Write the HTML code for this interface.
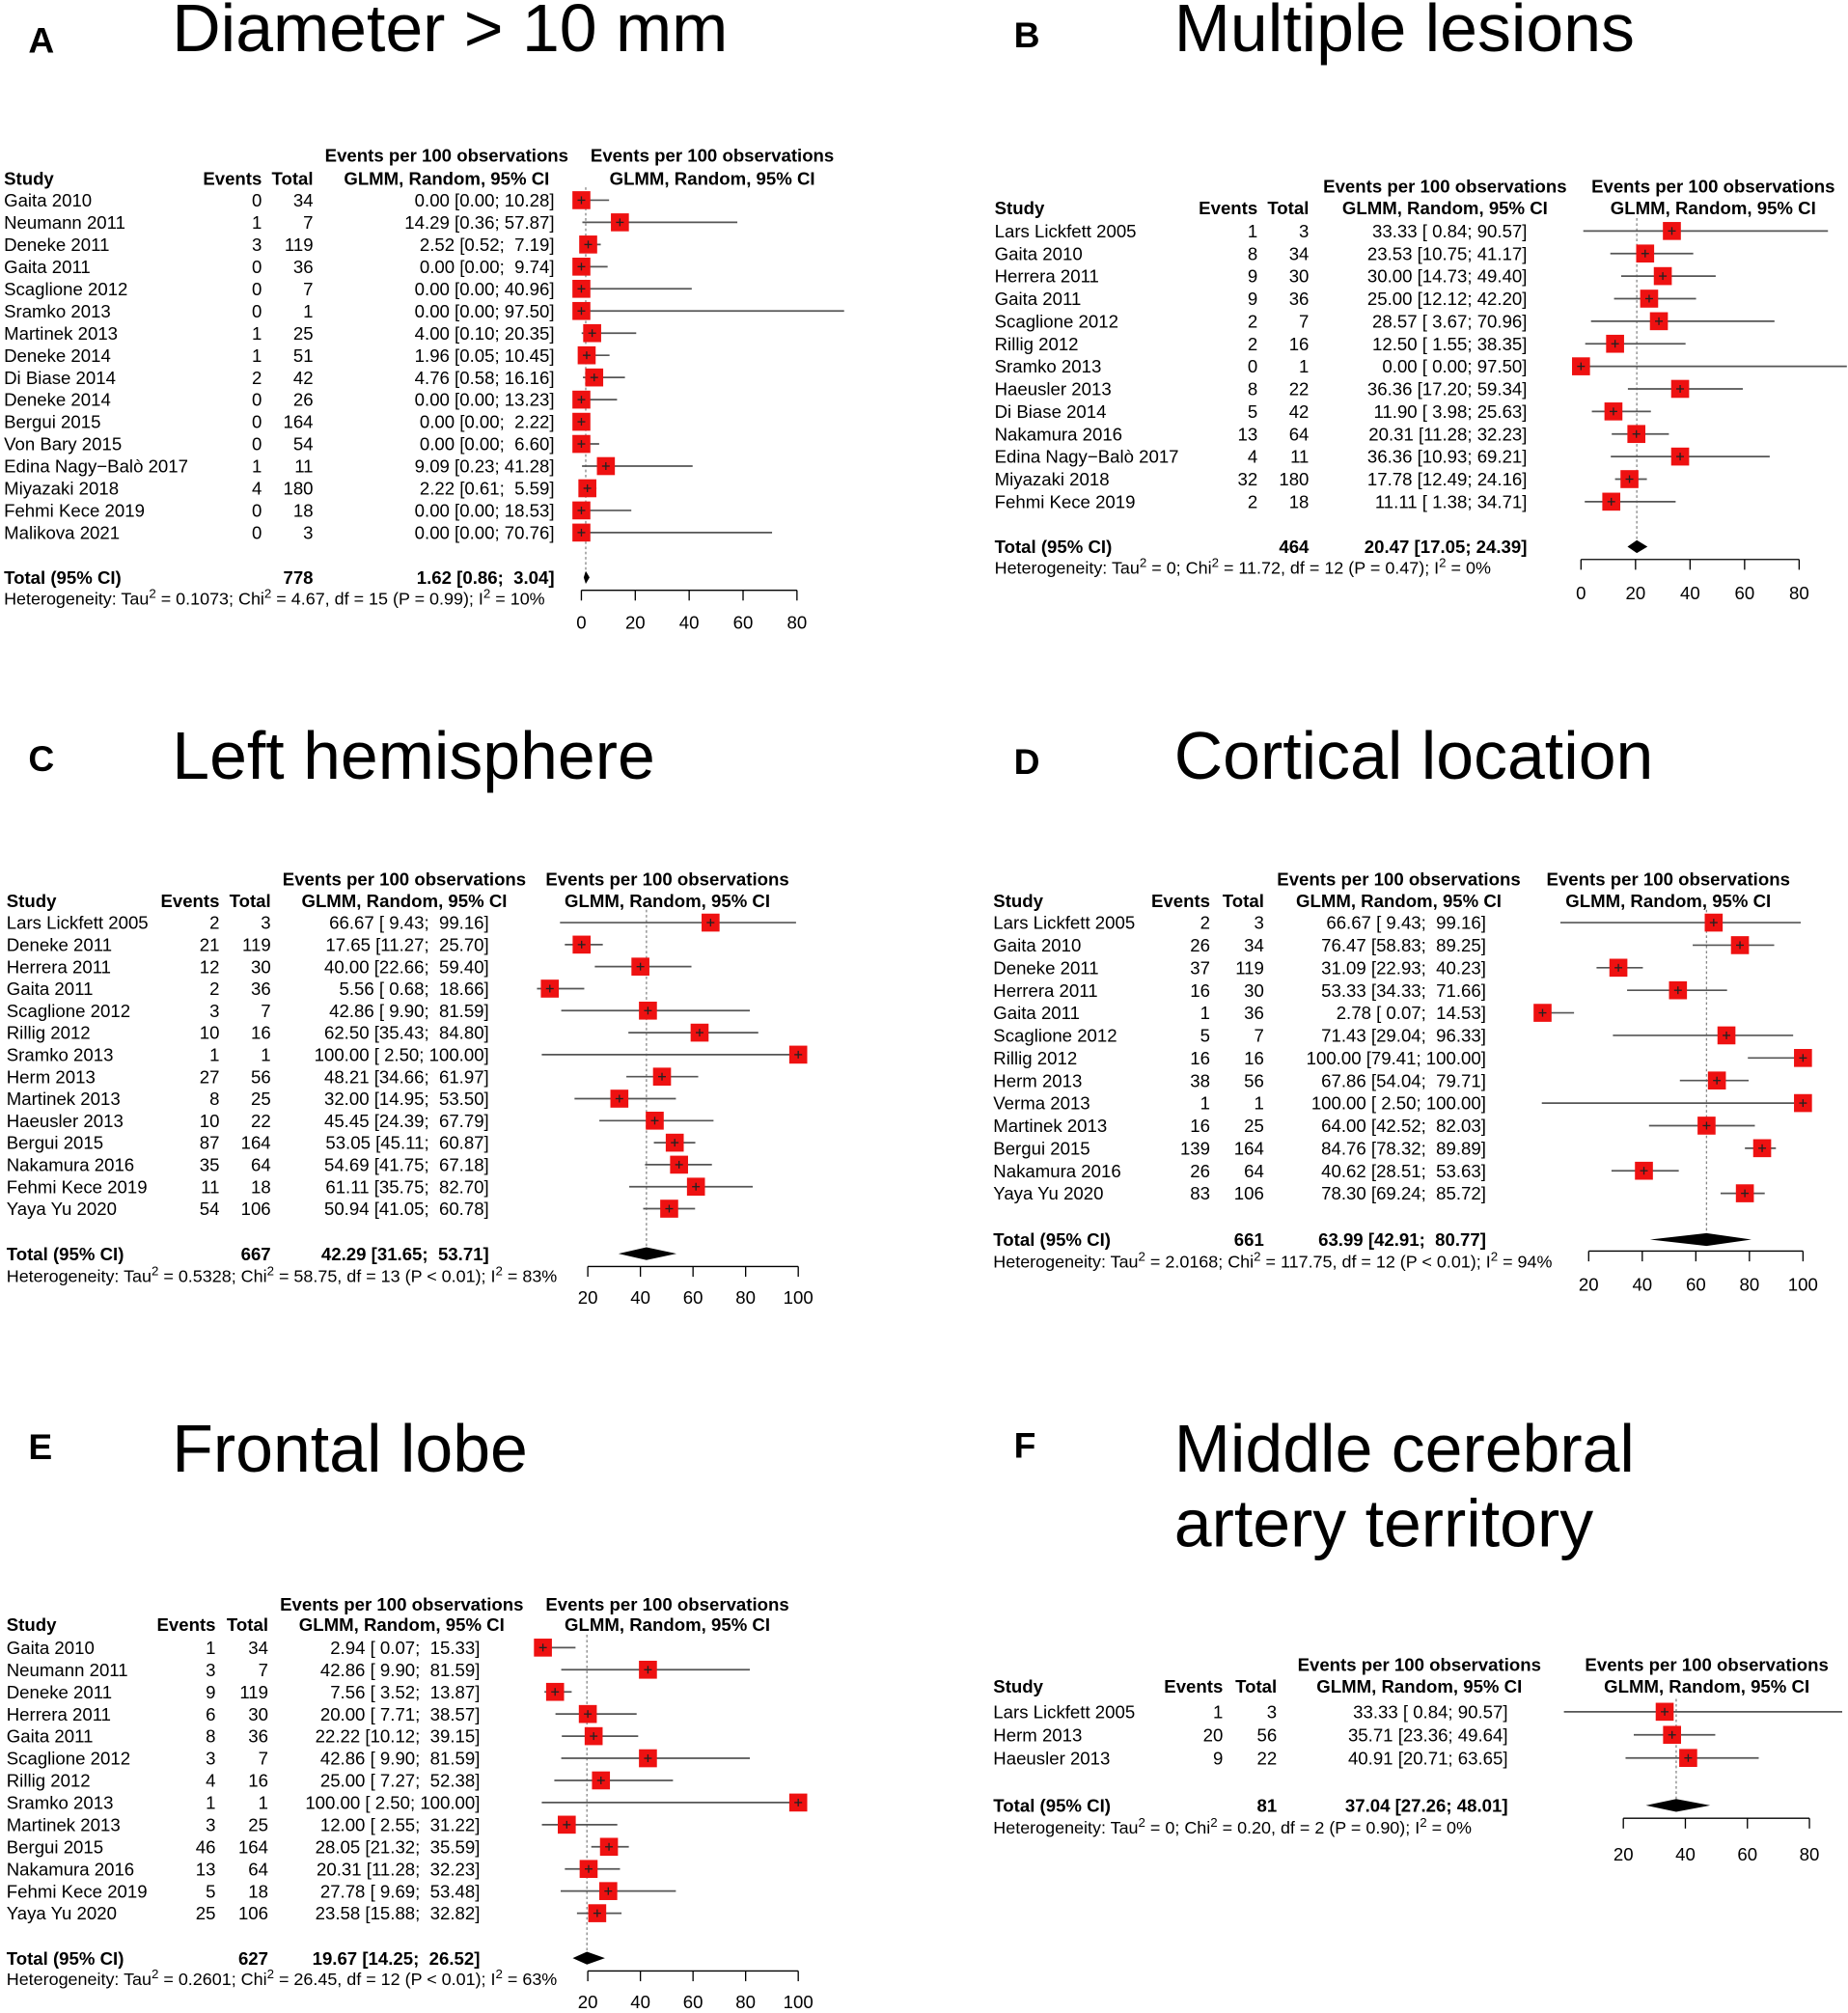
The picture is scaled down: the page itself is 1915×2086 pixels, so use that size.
<!DOCTYPE html>
<html><head><meta charset="utf-8"><style>
html,body{margin:0;padding:0;background:#fff}
svg text{font-family:"Liberation Sans",sans-serif;white-space:pre}
</style></head><body>
<svg id="fig" width="1915" height="2081" viewBox="0 0 1440 1565" xmlns="http://www.w3.org/2000/svg"></svg>
<script>
// ---- Panel A data ----
const studiesA=["Gaita 2010","Neumann 2011","Deneke 2011","Gaita 2011","Scaglione 2012","Sramko 2013","Martinek 2013","Deneke 2014","Di Biase 2014","Deneke 2014","Bergui 2015","Von Bary 2015","Edina Nagy\u2212Balò 2017","Miyazaki 2018","Fehmi Kece 2019","Malikova 2021"];
const eventsA=[0,1,3,0,0,0,1,1,2,0,0,0,1,4,0,0];
const totalsA=[34,7,119,36,7,1,25,51,42,26,164,54,11,180,18,3];
const estA=[0,14.29,2.52,0,0,0,4.00,1.96,4.76,0,0,0,9.09,2.22,0,0];
const loA=[0,0.36,0.52,0,0,0,0.10,0.05,0.58,0,0,0,0.23,0.61,0,0];
const hiA=[10.28,57.87,7.19,9.74,40.96,97.50,20.35,10.45,16.16,13.23,2.22,6.60,41.28,5.59,18.53,70.76];
const pooledA=[778,1.62,0.86,3.04];
const hetA=["0.1073","4.67","15","P = 0.99","10%"];
const ticksA=[0,20,40,60,80];
// ---- Panel B data ----
const studiesB=["Lars Lickfett 2005","Gaita 2010","Herrera 2011","Gaita 2011","Scaglione 2012","Rillig 2012","Sramko 2013","Haeusler 2013","Di Biase 2014","Nakamura 2016","Edina Nagy\u2212Balò 2017","Miyazaki 2018","Fehmi Kece 2019"];
const eventsB=[1,8,9,9,2,2,0,8,5,13,4,32,2];
const totalsB=[3,34,30,36,7,16,1,22,42,64,11,180,18];
const estB=[33.33,23.53,30.00,25.00,28.57,12.50,0.00,36.36,11.90,20.31,36.36,17.78,11.11];
const loB=[0.84,10.75,14.73,12.12,3.67,1.55,0.00,17.20,3.98,11.28,10.93,12.49,1.38];
const hiB=[90.57,41.17,49.40,42.20,70.96,38.35,97.50,59.34,25.63,32.23,69.21,24.16,34.71];
const pooledB=[464,20.47,17.05,24.39];
const hetB=["0","11.72","12","P = 0.47","0%"];
const ticksB=[0,20,40,60,80];
// ---- Panel C data ----
const studiesC=["Lars Lickfett 2005","Deneke 2011","Herrera 2011","Gaita 2011","Scaglione 2012","Rillig 2012","Sramko 2013","Herm 2013","Martinek 2013","Haeusler 2013","Bergui 2015","Nakamura 2016","Fehmi Kece 2019","Yaya Yu 2020"];
const eventsC=[2,21,12,2,3,10,1,27,8,10,87,35,11,54];
const totalsC=[3,119,30,36,7,16,1,56,25,22,164,64,18,106];
const estC=[66.67,17.65,40.00,5.56,42.86,62.50,100.00,48.21,32.00,45.45,53.05,54.69,61.11,50.94];
const loC=[9.43,11.27,22.66,0.68,9.90,35.43,2.50,34.66,14.95,24.39,45.11,41.75,35.75,41.05];
const hiC=[99.16,25.70,59.40,18.66,81.59,84.80,100.00,61.97,53.50,67.79,60.87,67.18,82.70,60.78];
const pooledC=[667,42.29,31.65,53.71];
const hetC=["0.5328","58.75","13","P < 0.01","83%"];
const ticksC=[20,40,60,80,100];
// ---- Panel D data ----
const studiesD=["Lars Lickfett 2005","Gaita 2010","Deneke 2011","Herrera 2011","Gaita 2011","Scaglione 2012","Rillig 2012","Herm 2013","Verma 2013","Martinek 2013","Bergui 2015","Nakamura 2016","Yaya Yu 2020"];
const eventsD=[2,26,37,16,1,5,16,38,1,16,139,26,83];
const totalsD=[3,34,119,30,36,7,16,56,1,25,164,64,106];
const estD=[66.67,76.47,31.09,53.33,2.78,71.43,100.00,67.86,100.00,64.00,84.76,40.62,78.30];
const loD=[9.43,58.83,22.93,34.33,0.07,29.04,79.41,54.04,2.50,42.52,78.32,28.51,69.24];
const hiD=[99.16,89.25,40.23,71.66,14.53,96.33,100.00,79.71,100.00,82.03,89.89,53.63,85.72];
const pooledD=[661,63.99,42.91,80.77];
const hetD=["2.0168","117.75","12","P < 0.01","94%"];
const ticksD=[20,40,60,80,100];
// ---- Panel E data ----
const studiesE=["Gaita 2010","Neumann 2011","Deneke 2011","Herrera 2011","Gaita 2011","Scaglione 2012","Rillig 2012","Sramko 2013","Martinek 2013","Bergui 2015","Nakamura 2016","Fehmi Kece 2019","Yaya Yu 2020"];
const eventsE=[1,3,9,6,8,3,4,1,3,46,13,5,25];
const totalsE=[34,7,119,30,36,7,16,1,25,164,64,18,106];
const estE=[2.94,42.86,7.56,20.00,22.22,42.86,25.00,100.00,12.00,28.05,20.31,27.78,23.58];
const loE=[0.07,9.90,3.52,7.71,10.12,9.90,7.27,2.50,2.55,21.32,11.28,9.69,15.88];
const hiE=[15.33,81.59,13.87,38.57,39.15,81.59,52.38,100.00,31.22,35.59,32.23,53.48,32.82];
const pooledE=[627,19.67,14.25,26.52];
const hetE=["0.2601","26.45","12","P < 0.01","63%"];
const ticksE=[20,40,60,80,100];
// ---- Panel F data ----
const studiesF=["Lars Lickfett 2005","Herm 2013","Haeusler 2013"];
const eventsF=[1,20,9];
const totalsF=[3,56,22];
const estF=[33.33,35.71,40.91];
const loF=[0.84,23.36,20.71];
const hiF=[90.57,49.64,63.65];
const pooledF=[81,37.04,27.26,48.01];
const hetF=["0","0.20","2","P = 0.90","0%"];
const ticksF=[20,40,60,80];

const NS="http://www.w3.org/2000/svg";
const svg=document.getElementById('fig');
function mk(tag,attrs,parent,txt){const e=document.createElementNS(NS,tag);for(const k in attrs)e.setAttribute(k,attrs[k]);if(txt!==undefined)e.textContent=txt;(parent||svg).appendChild(e);return e;}
function f2(v){return v.toFixed(2);}
function pad(s,n){while(s.length<n)s=' '+s;return s;}
function ciText(e,l,h,wl,wh){return f2(e)+' ['+pad(f2(l),wl)+'; '+pad(f2(h),wh)+']';}

function panel(cfg,studies,events,totals,est,lo,hi,pooled,het,ticks){
  const g=mk('g',{},svg);
  
  
  const L=mk('text',{x:cfg.lx,y:cfg.ly,'font-size':28,'font-weight':'bold'},g,cfg.letter);
  
  
  cfg.title.forEach((t,i)=>{const T=mk('text',{x:cfg.tx,y:cfg.ty+i*58,'font-size':52.5},g,t);
    
    });
  const X=v=>cfg.axX0+(v-ticks[0])*cfg.sc;
  const fs=14;
  const bold={'font-size':fs,'font-weight':'bold'};
  [[cfg.estC,'Events per 100 observations',cfg.h1],[cfg.plotC,'Events per 100 observations',cfg.h1],[cfg.estC,'GLMM, Random, 95% CI',cfg.h2],[cfg.plotC,'GLMM, Random, 95% CI',cfg.h2]].forEach(h=>{
    const t=mk('text',Object.assign({x:h[0],y:h[2]+5,'text-anchor':'middle'},bold),g,h[1]);
    
    });
  let t=mk('text',Object.assign({x:cfg.x0,y:cfg.h2+5},bold),g,'Study');
  
  t=mk('text',Object.assign({x:cfg.evR,y:cfg.h2+5,'text-anchor':'end'},bold),g,'Events');
  
  t=mk('text',Object.assign({x:cfg.totR,y:cfg.h2+5,'text-anchor':'end'},bold),g,'Total');
  
  const wl=Math.max(...lo.map(v=>f2(v).length)), wh=Math.max(...hi.map(v=>f2(v).length));
  const dl=mk('line',{x1:X(pooled[1]),x2:X(pooled[1]),y1:cfg.r0-10,y2:cfg.totY,stroke:'#888','stroke-dasharray':'2,2','stroke-width':1},g);
  
  studies.forEach((s,i)=>{
    const y=cfg.r0+i*cfg.step;
    const row=mk('g',{},g);
    
    
    mk('text',{x:cfg.x0,y:y+5,'font-size':fs},row,s);
    mk('text',{x:cfg.evR,y:y+5,'font-size':fs,'text-anchor':'end'},row,String(events[i]));
    mk('text',{x:cfg.totR,y:y+5,'font-size':fs,'text-anchor':'end'},row,String(totals[i]));
    mk('text',{x:cfg.estR,y:y+5,'font-size':fs,'text-anchor':'end'},row,ciText(est[i],lo[i],hi[i],wl,wh));
    const ci=mk('line',{x1:X(lo[i]),x2:X(hi[i]),y1:y,y2:y,stroke:'#555','stroke-width':1.3},row);
    
    const sz=14;
    const sq=mk('rect',{x:X(est[i])-sz/2,y:y-sz/2,width:sz,height:sz,fill:'#ee1111'},row);
    
    mk('line',{x1:X(est[i])-3,x2:X(est[i])+3,y1:y,y2:y,stroke:'#222','stroke-width':1},row);
    mk('line',{x1:X(est[i]),x2:X(est[i]),y1:y-3,y2:y+3,stroke:'#222','stroke-width':1},row);
  });
  const ty=cfg.totY;
  t=mk('text',Object.assign({x:cfg.x0,y:ty+5},bold),g,'Total (95% CI)');
  
  t=mk('text',Object.assign({x:cfg.totR,y:ty+5,'text-anchor':'end'},bold),g,String(pooled[0]));
  
  t=mk('text',Object.assign({x:cfg.estR,y:ty+5,'text-anchor':'end'},bold),g,ciText(pooled[1],pooled[2],pooled[3],wl,wh));
  
  const dm=mk('polygon',{points:`${X(pooled[2])},${ty} ${X(pooled[1])},${ty-5} ${X(pooled[3])},${ty} ${X(pooled[1])},${ty+5}`,fill:'#000'},g);
  
  const ht=mk('text',{x:cfg.x0,y:cfg.hetY+4,'font-size':13.5},g);
  
  const parts=[['Heterogeneity: Tau',0],['2',1],[' = '+het[0]+'; Chi',0],['2',1],[' = '+het[1]+', df = '+het[2]+' ('+het[3]+'); I',0],['2',1],[' = '+het[4],0]];
  parts.forEach(p=>{mk('tspan',p[1]?{'font-size':10,'baseline-shift':'super'}:{},ht,p[0]);});
  const ax=mk('g',{},g);
  
  mk('line',{x1:X(ticks[0]),x2:X(ticks[ticks.length-1]),y1:cfg.axY,y2:cfg.axY,stroke:'#000','stroke-width':1},ax);
  ticks.forEach(v=>{
    mk('line',{x1:X(v),x2:X(v),y1:cfg.axY,y2:cfg.axY+8,stroke:'#000','stroke-width':1},ax);
    const tl=mk('text',{x:X(v),y:cfg.axLab+5,'font-size':14,'text-anchor':'middle'},ax,String(v));
    
  });
}
panel({letter:'A',lx:22,ly:41,title:['Diameter > 10 mm'],tx:134,ty:40,x0:3,evR:204,totR:244,estR:432,estC:348,plotC:555,h1:121,h2:139,r0:156,step:17.27,totY:450,hetY:467,axY:460,axLab:485,axX0:453,sc:2.1},studiesA,eventsA,totalsA,estA,loA,hiA,pooledA,hetA,ticksA);
panel({letter:'B',lx:790,ly:37,title:['Multiple lesions'],tx:915,ty:40,x0:775,evR:980,totR:1020,estR:1190,estC:1126,plotC:1335,h1:145,h2:162,r0:180,step:17.58,totY:426,hetY:443,axY:436,axLab:462,axX0:1232,sc:2.125},studiesB,eventsB,totalsB,estB,loB,hiB,pooledB,hetB,ticksB);
panel({letter:'C',lx:22,ly:601,title:['Left hemisphere'],tx:134,ty:607,x0:5,evR:171,totR:211,estR:381,estC:315,plotC:520,h1:685,h2:702,r0:719,step:17.15,totY:977,hetY:995,axY:987,axLab:1011,axX0:458,sc:2.05},studiesC,eventsC,totalsC,estC,loC,hiC,pooledC,hetC,ticksC);
panel({letter:'D',lx:790,ly:603,title:['Cortical location'],tx:915,ty:607,x0:774,evR:943,totR:985,estR:1158,estC:1090,plotC:1300,h1:685,h2:702,r0:719,step:17.58,totY:966,hetY:984,axY:975,axLab:1001,axX0:1238,sc:2.0875},studiesD,eventsD,totalsD,estD,loD,hiD,pooledD,hetD,ticksD);
panel({letter:'E',lx:22,ly:1137,title:['Frontal lobe'],tx:134,ty:1147,x0:5,evR:168,totR:209,estR:374,estC:313,plotC:520,h1:1250,h2:1266,r0:1284,step:17.25,totY:1526,hetY:1543,axY:1536,axLab:1560,axX0:458,sc:2.05},studiesE,eventsE,totalsE,estE,loE,hiE,pooledE,hetE,ticksE);
panel({letter:'F',lx:790,ly:1136,title:['Middle cerebral','artery territory'],tx:915,ty:1147,x0:774,evR:953,totR:995,estR:1175,estC:1106,plotC:1330,h1:1297,h2:1314,r0:1334,step:18,totY:1407,hetY:1425,axY:1417,axLab:1445,axX0:1265,sc:2.417},studiesF,eventsF,totalsF,estF,loF,hiF,pooledF,hetF,ticksF);
</script>
</body></html>
